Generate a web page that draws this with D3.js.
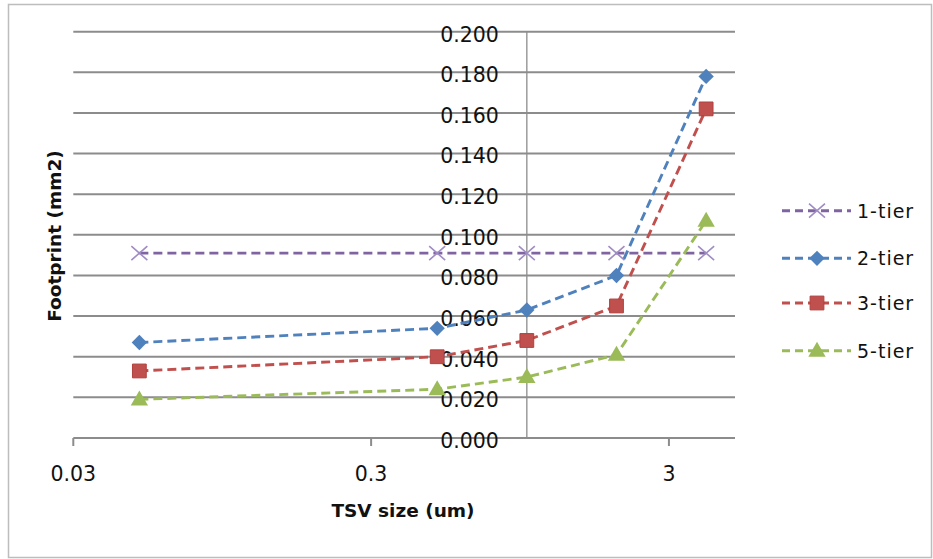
<!DOCTYPE html>
<html lang="en">
<head>
<meta charset="utf-8">
<title>Footprint vs TSV size</title>
<script src="https://d3js.org/d3.v7.min.js"></script>
<style>
  body { margin: 0; background: #fff; }
  svg { display: block; }
  .tick-label { font-family: "DejaVu Sans", sans-serif; font-size: 20.5px; fill: #111; }
  .axis-title { font-family: "DejaVu Sans", sans-serif; font-size: 18.5px; font-weight: bold; fill: #111; }
  .legend-label { font-family: "DejaVu Sans", sans-serif; font-size: 19px; letter-spacing: 1px; fill: #111; }
</style>
</head>
<body>
<script>
// data
var tsvSize = [0.05, 0.5, 1, 2, 4];
var tier1 = [0.091, 0.091, 0.091, 0.091, 0.091];
var tier2 = [0.047, 0.054, 0.063, 0.080, 0.178];
var tier3 = [0.033, 0.040, 0.048, 0.065, 0.162];
var tier5 = [0.019, 0.024, 0.030, 0.041, 0.107];
var seriesNames = ["1-tier", "2-tier", "3-tier", "5-tier"];
var xTicks = [0.03, 0.3, 3];
var yTicks = [0, 0.02, 0.04, 0.06, 0.08, 0.10, 0.12, 0.14, 0.16, 0.18, 0.20];

var w = 933, h = 559;
var colors = ["#8064A2", "#4F81BD", "#C0504D", "#9BBB59"];
var markers = ["x", "diamond", "square", "triangle"];
var allSeries = [tier1, tier2, tier3, tier5];

var svg = d3.select("body").append("svg")
    .attr("width", w).attr("height", h);

// outer chart border
svg.append("rect")
    .attr("x", 8.5).attr("y", 4.5)
    .attr("width", 923).attr("height", 553)
    .attr("fill", "none").attr("stroke", "#bdbdbd").attr("stroke-width", 1.5);

var x = d3.scaleLog().domain([0.03, 5]).range([73.3, 735]);
var y = d3.scaleLinear().domain([0, 0.2]).range([438, 31.7]);

// horizontal gridlines
svg.append("g").selectAll("line")
    .data(yTicks)
    .enter().append("line")
    .attr("x1", x.range()[0]).attr("x2", x.range()[1])
    .attr("y1", function(d) { return y(d); })
    .attr("y2", function(d) { return y(d); })
    .attr("stroke", "#8c8c8c").attr("stroke-width", 2);

// x axis ticks (down from zero line)
svg.append("g").selectAll("line")
    .data(xTicks)
    .enter().append("line")
    .attr("x1", function(d) { return x(d); })
    .attr("x2", function(d) { return x(d); })
    .attr("y1", y(0)).attr("y2", y(0) + 8)
    .attr("stroke", "#8c8c8c").attr("stroke-width", 2);

svg.append("g").selectAll("text")
    .data(xTicks)
    .enter().append("text")
    .attr("class", "tick-label")
    .attr("x", function(d) { return x(d); })
    .attr("y", 481)
    .attr("text-anchor", "middle")
    .text(function(d) { return d; });

// vertical axis crossing at x = 1
svg.append("line")
    .attr("x1", x(1)).attr("x2", x(1))
    .attr("y1", y(0.2)).attr("y2", y(0))
    .attr("stroke", "#8c8c8c").attr("stroke-width", 1.3);

svg.append("g").selectAll("text")
    .data(yTicks)
    .enter().append("text")
    .attr("class", "tick-label")
    .attr("x", x(1) - 28)
    .attr("y", function(d) { return y(d) + 2.5; })
    .attr("dy", "0.36em")
    .attr("text-anchor", "end")
    .text(function(d) { return d3.format(".3f")(d); });

// axis titles
svg.append("text")
    .attr("class", "axis-title")
    .attr("x", 403).attr("y", 517)
    .attr("text-anchor", "middle")
    .text("TSV size (um)");

svg.append("text")
    .attr("class", "axis-title")
    .attr("transform", "translate(61,236) rotate(-90)")
    .attr("text-anchor", "middle")
    .text("Footprint (mm2)");

function drawMarker(g, type, color, cx, cy) {
    if (type === "x") {
        g.append("path")
            .attr("d", "M" + (cx - 8) + "," + (cy - 7) + "L" + (cx + 8) + "," + (cy + 7) +
                       "M" + (cx - 8) + "," + (cy + 7) + "L" + (cx + 8) + "," + (cy - 7))
            .attr("stroke", "#a08cc4").attr("stroke-width", 1.6).attr("fill", "none");
    } else if (type === "diamond") {
        g.append("path")
            .attr("d", d3.symbol(d3.symbolDiamond2, 150)())
            .attr("transform", "translate(" + cx + "," + cy + ")")
            .attr("fill", color);
    } else if (type === "square") {
        g.append("path")
            .attr("d", d3.symbol(d3.symbolSquare, 190)())
            .attr("transform", "translate(" + cx + "," + cy + ")")
            .attr("fill", color).attr("stroke", "#b0413e").attr("stroke-width", 1);
    } else {
        g.append("path")
            .attr("d", d3.symbol(d3.symbolTriangle, 130)())
            .attr("transform", "translate(" + cx + "," + (cy + 1) + ")")
            .attr("fill", color);
    }
}

var line = d3.line()
    .x(function(d, i) { return x(tsvSize[i]); })
    .y(function(d) { return y(d); });

allSeries.forEach(function(vals, s) {
    var g = svg.append("g");
    g.append("path")
        .datum(vals)
        .attr("d", line)
        .attr("fill", "none")
        .attr("stroke", colors[s])
        .attr("stroke-width", 2.9)
        .attr("stroke-dasharray", "9,5");
    vals.forEach(function(v, i) {
        drawMarker(g, markers[s], colors[s], x(tsvSize[i]), y(v));
    });
});

// legend
var legendY = [210.7, 258.3, 303, 350.7];
seriesNames.forEach(function(name, s) {
    var g = svg.append("g");
    g.append("line")
        .attr("x1", 782).attr("x2", 851)
        .attr("y1", legendY[s]).attr("y2", legendY[s])
        .attr("stroke", colors[s]).attr("stroke-width", 2.9)
        .attr("stroke-dasharray", "8,5");
    drawMarker(g, markers[s], colors[s], 817, legendY[s]);
    g.append("text")
        .attr("class", "legend-label")
        .attr("x", 857).attr("y", legendY[s])
        .attr("dy", "0.36em")
        .text(name);
});
</script>
</body>
</html>
